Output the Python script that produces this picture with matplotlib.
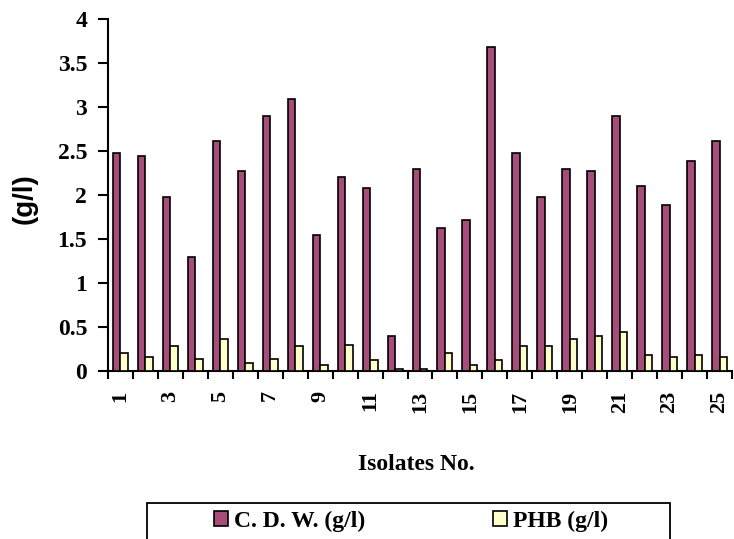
import numpy as np
import matplotlib
matplotlib.use('Agg')
import matplotlib.pyplot as plt
from matplotlib.ticker import FixedLocator
from matplotlib.patches import Rectangle

# =============================================================================
# Data
# =============================================================================
isolates = [str(i) for i in range(1, 26)]
cdw = [2.48, 2.44, 1.98, 1.29, 2.61, 2.27, 2.90, 3.09, 1.55, 2.20,
       2.08, 0.40, 2.30, 1.63, 1.72, 3.68, 2.48, 1.98, 2.30, 2.27,
       2.90, 2.10, 1.89, 2.39, 2.61]
phb = [0.21, 0.16, 0.28, 0.14, 0.36, 0.09, 0.14, 0.28, 0.07, 0.30,
       0.12, 0.02, 0.02, 0.21, 0.07, 0.12, 0.28, 0.28, 0.36, 0.40,
       0.44, 0.18, 0.16, 0.18, 0.16]
y_ticks = [0, 0.5, 1, 1.5, 2, 2.5, 3, 3.5, 4]
y_tick_labels = ['0', '0.5', '1', '1.5', '2', '2.5', '3', '3.5', '4']

serif = 'Liberation Serif'

W, H = 734, 539
fig = plt.figure(figsize=(W / 100, H / 100), dpi=100)
ax = fig.add_axes([108 / W, 1 - 371 / H, (732 - 108) / W, (371 - 19) / H])

x = np.arange(len(isolates))
bw = 0.3
ax.bar(x - bw / 2, cdw, bw, color='#A64D79', edgecolor='black',
       linewidth=1.2, label='C. D. W. (g/l)', zorder=3)
ax.bar(x + bw / 2, phb, bw, color='#FFFFCC', edgecolor='black',
       linewidth=1.2, label='PHB (g/l)', zorder=3)

ax.set_xlim(-0.5, len(isolates) - 0.5)
ax.set_ylim(0, 4)

# x ticks: labels at odd isolates, marks at category boundaries
ax.set_xticks(x[::2])
ax.set_xticklabels(isolates[::2], rotation=90, fontfamily=serif,
                   fontweight='bold', fontsize=16)
ax.xaxis.set_minor_locator(FixedLocator(np.arange(-0.5, len(isolates), 1)))
ax.tick_params(axis='x', which='major', length=0, pad=14)
ax.tick_params(axis='x', which='minor', length=5.5, width=1.5,
               direction='out')

ax.set_yticks(y_ticks)
ax.set_yticklabels(y_tick_labels, fontfamily=serif, fontweight='bold',
                   fontsize=17)
ax.tick_params(axis='y', length=7, width=1.5, direction='out', pad=8)

for side in ['top', 'right']:
    ax.spines[side].set_visible(False)
for side in ['left', 'bottom']:
    ax.spines[side].set_linewidth(1.5)

fig.text(24.5 / W, 1 - 199 / H, '(g/l)', rotation=90, ha='center',
         va='center', fontfamily='Liberation Sans', fontweight='bold',
         fontsize=20)
fig.text(416 / W, 1 - 465 / H, 'Isolates No.',
         ha='center', va='center', fontfamily=serif, fontweight='bold',
         fontsize=17)

# legend box runs off the bottom edge, as in the reference
fig.patches.append(Rectangle((147 / W, -0.05), (670 - 147) / W,
                             0.05 + 1 - 503 / H, transform=fig.transFigure,
                             facecolor='white', edgecolor='black',
                             linewidth=1.3, zorder=1))
leg = fig.legend(loc='center', ncol=2,
                 bbox_to_anchor=(411 / W, 1 - 521 / H),
                 prop={'family': serif, 'weight': 'bold', 'size': 17},
                 frameon=False, borderaxespad=0, borderpad=0,
                 handlelength=0.6, handleheight=0.6, handletextpad=0.25,
                 columnspacing=5.4)
leg.set_zorder(2)

fig.savefig('out.png', dpi=100)
